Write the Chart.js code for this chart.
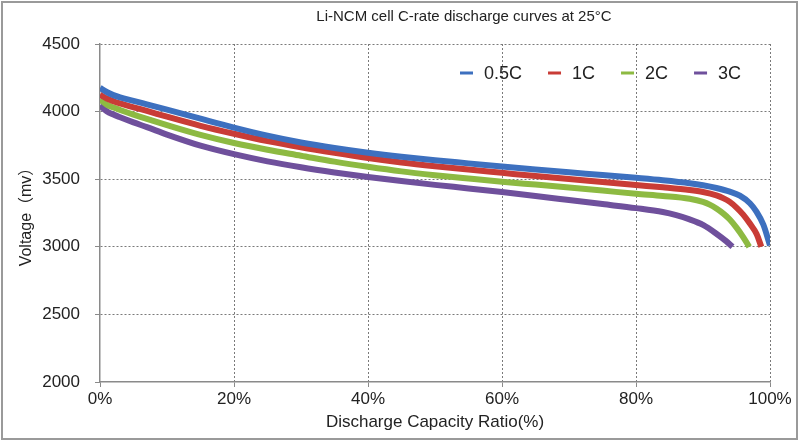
<!DOCTYPE html>
<html>
<head>
<meta charset="utf-8">
<script src="https://cdn.jsdelivr.net/npm/chart.js@4"></script>
<style>
    html, body { margin: 0; padding: 0; background: #fff; }
    #wrap { width: 800px; height: 448px; }
</style>
</head>
<body>
<div id="wrap"><canvas id="chart" width="800" height="448"></canvas></div>
<script>
// 放电容量比例 (%) 与电压 (mV)
const chartTitle = 'Li-NCM cell C-rate discharge curves at 25°C';
const seriesLabels = ['0.5C', '1C', '2C', '3C'];
const seriesColors = ['#3d70bf', '#c93c36', '#8dba42', '#6f509c'];

const pct05  = [0, 1, 2, 3, 5, 7, 10, 15, 20, 25, 30, 35, 40, 45, 50, 55, 60, 65, 70, 75, 80, 84, 88, 90, 92, 94, 95.5, 97, 98, 99, 100];
const volt05 = [4175, 4145, 4122, 4105, 4080, 4054, 4015, 3948, 3882, 3822, 3772, 3731, 3696, 3666, 3640, 3617, 3594, 3572, 3551, 3531, 3510, 3492, 3470, 3455, 3435, 3408, 3378, 3322, 3258, 3165, 3010];

const pct1  = [0, 1, 2, 3, 5, 7, 10, 15, 20, 25, 30, 35, 40, 45, 50, 55, 60, 65, 70, 75, 80, 84, 88, 90, 92, 93, 94, 95, 96, 97, 98, 98.7];
const volt1 = [4125, 4097, 4077, 4060, 4032, 4005, 3962, 3895, 3836, 3782, 3736, 3695, 3657, 3624, 3596, 3571, 3547, 3523, 3501, 3479, 3457, 3440, 3420, 3405, 3380, 3360, 3332, 3290, 3238, 3172, 3095, 3000];

const pct2  = [0, 1, 2, 3, 5, 7, 10, 15, 20, 25, 30, 35, 40, 45, 50, 55, 60, 65, 70, 75, 80, 84, 88, 90, 91, 92, 93, 94, 95, 96, 96.9];
const volt2 = [4090, 4052, 4030, 4012, 3978, 3946, 3900, 3828, 3768, 3718, 3674, 3630, 3592, 3558, 3530, 3505, 3481, 3460, 3439, 3416, 3392, 3376, 3355, 3332, 3312, 3283, 3247, 3202, 3142, 3072, 3000];

const pct3  = [0, 1, 2, 3, 5, 7, 10, 15, 20, 25, 30, 35, 40, 45, 50, 55, 60, 65, 70, 75, 80, 84, 86, 88, 90, 92, 93.5, 94.4];
const volt3 = [4045, 4003, 3978, 3958, 3920, 3885, 3830, 3748, 3685, 3632, 3588, 3550, 3516, 3486, 3458, 3432, 3405, 3376, 3346, 3316, 3286, 3257, 3234, 3203, 3162, 3097, 3040, 3000];

const xTickStep = 20;
const yMin = 2000, yMax = 4500, yStep = 500;

const FONT = '"Liberation Sans", Arial, Helvetica, sans-serif';

function toPoints(xs, ys) {
    return xs.map((x, i) => ({ x: x, y: ys[i] }));
}

// 外框 + 标题
const framePlugin = {
    id: 'frame',
    beforeDraw(chart) {
        const ctx = chart.ctx;
        ctx.save();
        ctx.fillStyle = '#fff';
        ctx.fillRect(0, 0, chart.width, chart.height);
        ctx.strokeStyle = '#9a9a9a';
        ctx.lineWidth = 2;
        ctx.strokeRect(2, 2, 795, 437);
        ctx.fillStyle = '#222';
        ctx.font = '15px ' + FONT;
        ctx.textAlign = 'center';
        ctx.textBaseline = 'middle';
        ctx.fillText(chartTitle, 464, 17);
        ctx.restore();
    }
};

// 图例画在绘图区内右上角
const insideLegend = {
    id: 'insideLegend',
    afterDatasetsDraw(chart) {
        const ctx = chart.ctx;
        ctx.save();
        ctx.font = '18px ' + FONT;
        ctx.textBaseline = 'middle';
        ctx.textAlign = 'left';
        let x = 460;
        const y = 73;
        chart.data.datasets.forEach(ds => {
            ctx.fillStyle = ds.borderColor;
            ctx.fillRect(x, y - 1.5, 13, 3);
            ctx.fillStyle = '#222';
            const tx = x + 24;
            ctx.fillText(ds.label, tx, y + 1);
            x = tx + ctx.measureText(ds.label).width + 26;
        });
        ctx.restore();
    }
};

const ctx = document.getElementById('chart').getContext('2d');

new Chart(ctx, {
    type: 'line',
    data: {
        datasets: [
            { label: seriesLabels[0], data: toPoints(pct05, volt05), borderColor: seriesColors[0] },
            { label: seriesLabels[1], data: toPoints(pct1, volt1), borderColor: seriesColors[1] },
            { label: seriesLabels[2], data: toPoints(pct2, volt2), borderColor: seriesColors[2] },
            { label: seriesLabels[3], data: toPoints(pct3, volt3), borderColor: seriesColors[3] }
        ].map(ds => Object.assign(ds, {
            borderWidth: 6,
            pointRadius: 0,
            fill: false,
            cubicInterpolationMode: 'monotone'
        }))
    },
    options: {
        responsive: false,
        devicePixelRatio: 1,
        animation: false,
        layout: { padding: { left: 0, right: 30, top: 44, bottom: 0 } },
        plugins: {
            legend: { display: false },
            tooltip: { enabled: false },
            title: { display: false }
        },
        scales: {
            x: {
                type: 'linear',
                min: 0,
                max: 100,
                afterFit: (scale) => { scale.height = 66; },
                ticks: {
                    stepSize: xTickStep,
                    padding: 2,
                    color: '#222',
                    font: { family: FONT, size: 17 },
                    callback: (value) => value + '%'
                },
                grid: {
                    color: (c) => c.index === 0 ? 'rgba(0,0,0,0)' : '#7a7a7a',
                    lineWidth: 1,
                    tickLength: 5,
                    tickColor: '#8a8a8a',
                    tickBorderDash: []
                },
                border: { display: true, color: '#8a8a8a', width: 1.5, dash: [2, 2] },
                title: {
                    display: true,
                    text: 'Discharge Capacity Ratio(%)',
                    color: '#222',
                    font: { family: FONT, size: 17 },
                    padding: { top: 0, bottom: 15 }
                }
            },
            y: {
                min: yMin,
                max: yMax,
                afterFit: (scale) => { scale.width = 100; },
                ticks: {
                    stepSize: yStep,
                    padding: 15,
                    color: '#222',
                    font: { family: FONT, size: 17 },
                    callback: (value) => String(value)
                },
                grid: {
                    color: (c) => c.index === 0 ? 'rgba(0,0,0,0)' : '#7a7a7a',
                    lineWidth: 1,
                    tickLength: 5,
                    tickColor: '#8a8a8a',
                    tickBorderDash: []
                },
                border: { display: true, color: '#8a8a8a', width: 1.5, dash: [2, 2] },
                title: {
                    display: true,
                    text: 'Voltage（mv）',
                    color: '#222',
                    font: { family: FONT + ', "Noto Sans CJK SC"', size: 16 },
                    padding: { top: 17, bottom: 0 }
                }
            }
        }
    },
    plugins: [framePlugin, insideLegend]
});
</script>
</body>
</html>
